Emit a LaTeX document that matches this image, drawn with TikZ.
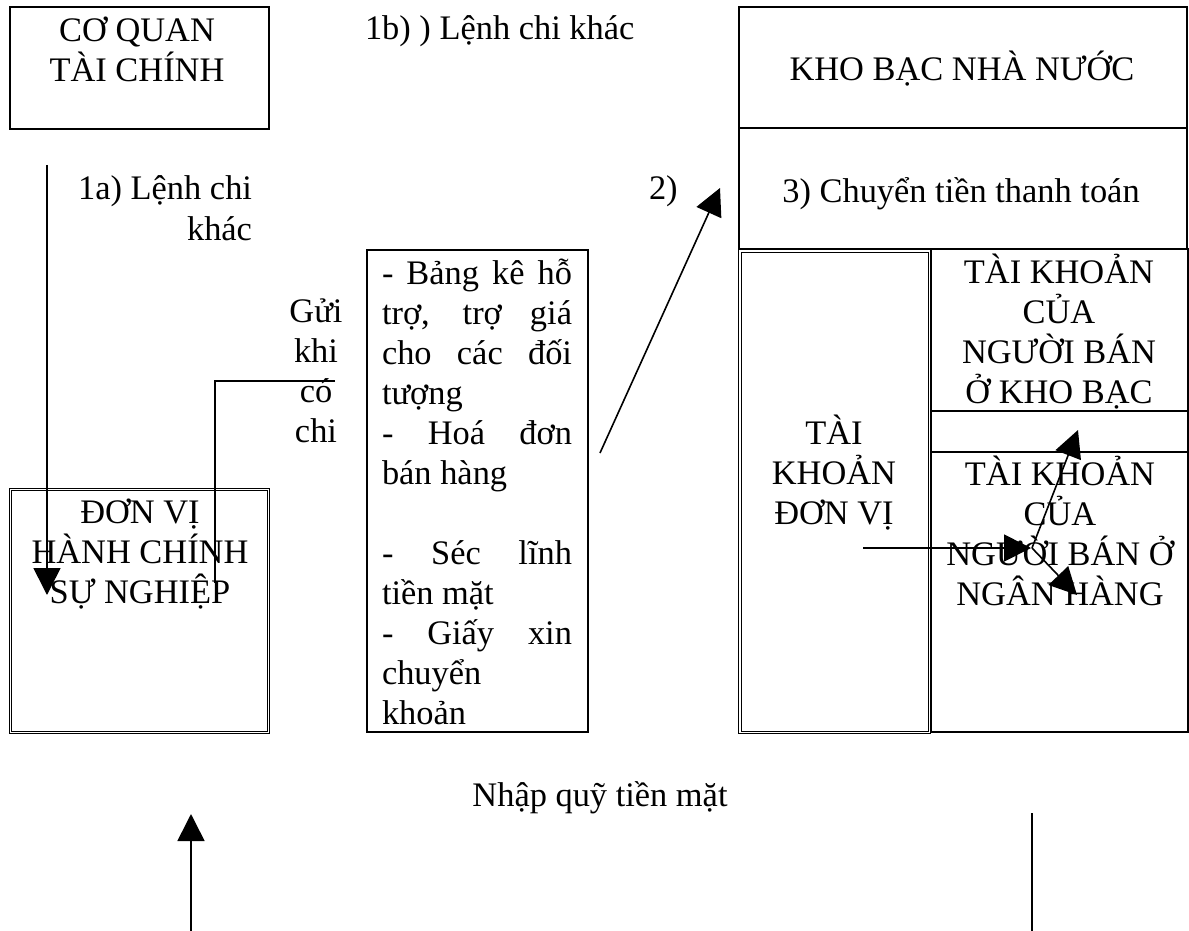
\documentclass[tikz,border=0pt]{standalone}
\usepackage{fontspec}
\setmainfont{Liberation Serif}
\usetikzlibrary{arrows.meta}
\begin{document}
\begin{tikzpicture}[x=1pt,y=-1pt,
  every node/.style={font=\fontsize{34.4}{40}\selectfont, inner sep=0pt, outer sep=0pt},
  dbl/.style={draw, double, double distance=1.8pt, line width=0.8pt},
  lbl/.style={anchor=base, align=center},
  conn/.style={line width=1.6pt},
  arr/.style={line width=1.6pt, -{Triangle[length=27pt,width=27pt]}}
]
\useasboundingbox (0,0) rectangle (1189,931);

% boxes
\node[draw, line width=2pt, minimum width=259pt, minimum height=122pt] (cq) at (139.5,68) {};
\node[dbl, minimum width=258pt, minimum height=243pt] (dv) at (139.5,611) {};
\node[draw, line width=2pt, minimum width=221pt, minimum height=482pt] (ct) at (477.5,491) {};
\node[draw, line width=2pt, minimum width=448pt, minimum height=121pt] (kb) at (963,67.5) {};
\node[draw, line width=2pt, minimum width=448pt, minimum height=121pt] (tt) at (963,188.5) {};
\node[dbl, minimum width=189.5pt, minimum height=481.5pt] (tkdv) at (834.75,491.75) {};
\node[draw, line width=2pt, minimum width=257pt, minimum height=162pt] (tkkb) at (1059.5,330) {};
\node[draw, line width=2pt, minimum width=257pt, minimum height=41pt] (gap) at (1059.5,431.5) {};
\node[draw, line width=2pt, minimum width=257pt, minimum height=280pt] (tknh) at (1059.5,592) {};

% texts (base anchor = baseline of the last line)
\node[lbl] (tcq) at (137,82) {CƠ QUAN\\TÀI CHÍNH};
\node[anchor=base west] (t1b) at (365,40) {1b) ) Lệnh chi khác};
\node[lbl] (tkb) at (962,81) {KHO BẠC NHÀ NƯỚC};
\node[lbl] (ttt) at (961,202) {3) Chuyển tiền thanh toán};
\node[anchor=base east, align=right] (t1a) at (252,240) {1a) Lệnh chi\\khác\hspace{9pt}};
\node[lbl] (tgui) at (316,442) {Gửi\\khi\\có\\chi};
\node[anchor=base west] (t2) at (649,200) {2)};
\node[anchor=base west, align=left] (tct) at (382,724) {%
\makebox[190pt][s]{- Bảng kê hỗ}\\
\makebox[190pt][s]{trợ, trợ giá}\\
\makebox[190pt][s]{cho các đối}\\
tượng\\
\makebox[190pt][s]{- Hoá đơn}\\
bán hàng\\
\mbox{}\\
\makebox[190pt][s]{- Séc lĩnh}\\
tiền mặt\\
\makebox[190pt][s]{- Giấy xin}\\
chuyển\\
khoản};
\node[lbl] (ttkkb) at (1059,403) {TÀI KHOẢN\\CỦA\\NGƯỜI BÁN\\Ở KHO BẠC};
\node[lbl] (ttkdv) at (834,524) {TÀI\\KHOẢN\\ĐƠN VỊ};
\node[lbl] (ttknh) at (1060,605) {TÀI KHOẢN\\CỦA\\NGƯỜI BÁN Ở\\NGÂN HÀNG};
\node[lbl] (tdv) at (140,603) {ĐƠN VỊ\\HÀNH CHÍNH\\SỰ NGHIỆP};
\node[lbl] (tnq) at (600,806) {Nhập quỹ tiền mặt};

% connector points
\coordinate (a1s) at (47,165);
\coordinate (a1e) at (47,595);
\coordinate (g1) at (335,381);
\coordinate (g2) at (215,381);
\coordinate (g3) at (215,583);
\coordinate (a2s) at (600,453);
\coordinate (a2e) at (720,188);
\coordinate (h1) at (863,548);
\coordinate (h2) at (1031,548);
\coordinate (hx) at (1032,548);
\coordinate (up) at (1078,430);
\coordinate (dn) at (1077,595);
\coordinate (b1s) at (191,931);
\coordinate (b1e) at (191,814);
\coordinate (b2s) at (1032,813);
\coordinate (b2e) at (1032,931);

% connectors
\draw[arr] (a1s) -- (a1e);
\draw[conn] (g1) -- (g2) -- (g3);
\draw[arr] (a2s) -- (a2e);
\draw[arr] (h1) -- (h2);
\draw[arr] (hx) -- (up);
\draw[arr] (hx) -- (dn);
\draw[arr] (b1s) -- (b1e);
\draw[conn] (b2s) -- (b2e);
\end{tikzpicture}
\end{document}
